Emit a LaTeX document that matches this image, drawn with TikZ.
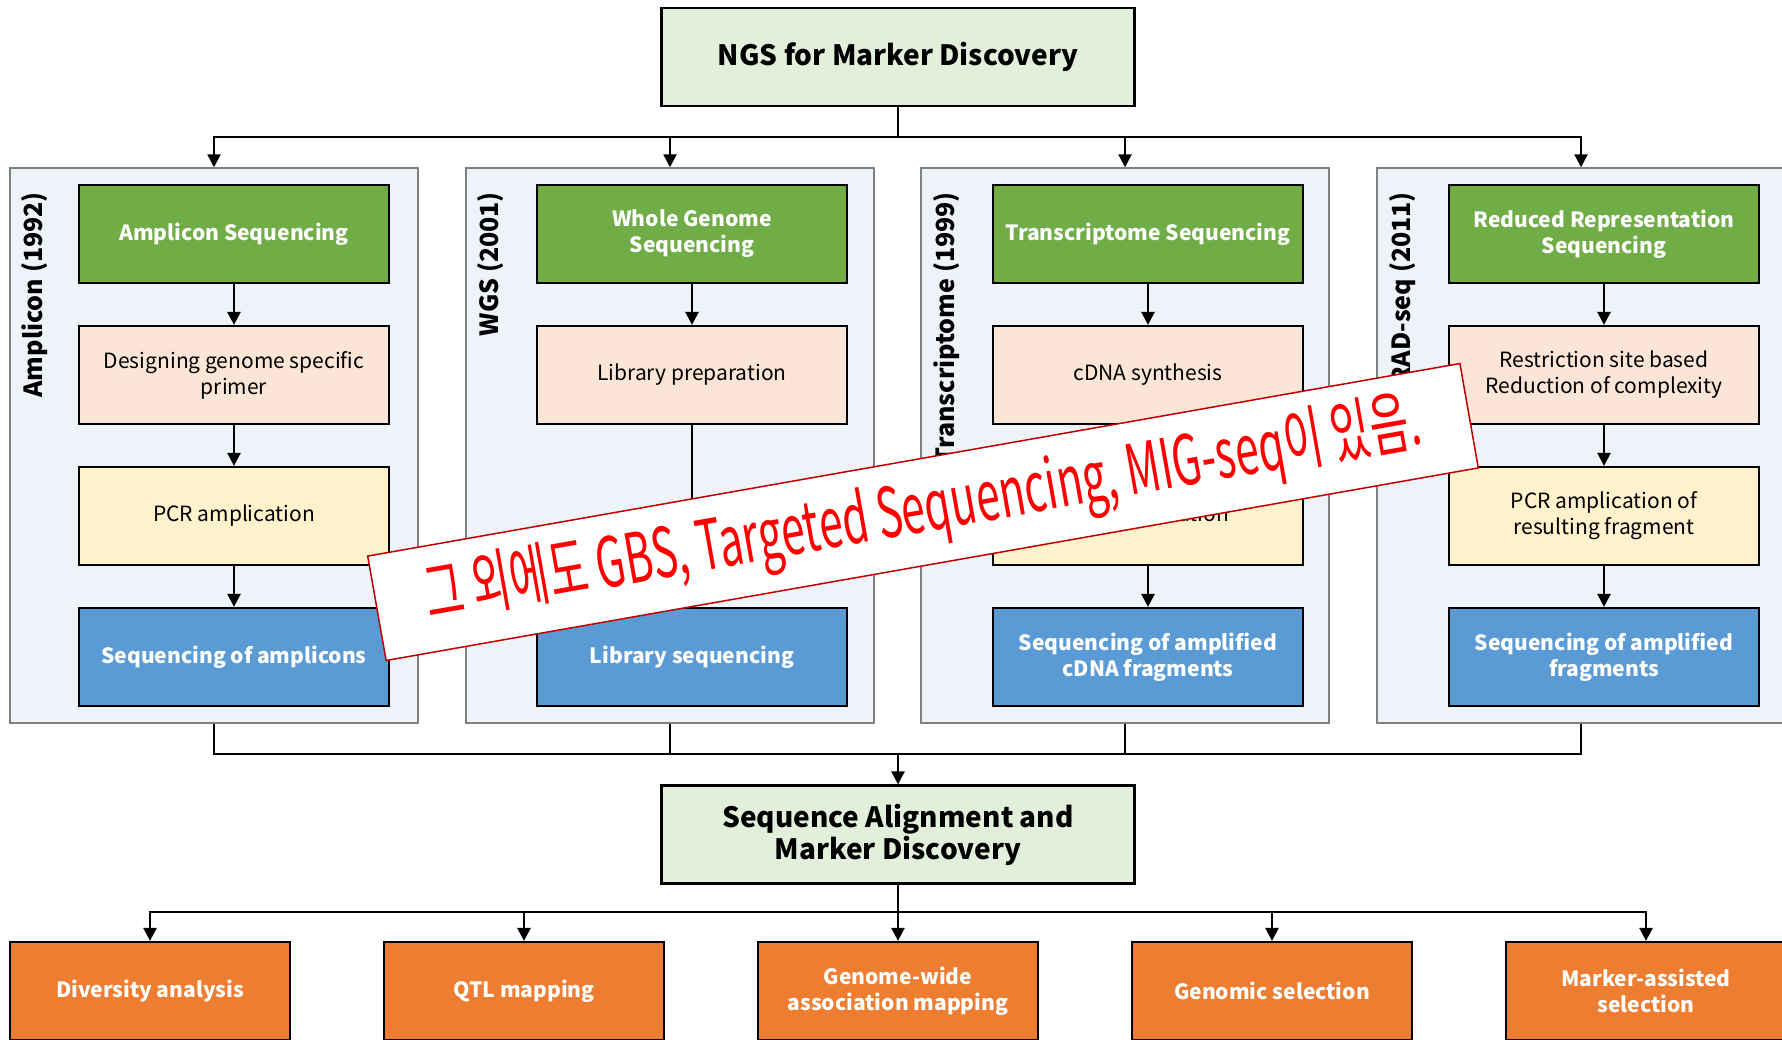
\documentclass[tikz,border=0pt]{standalone}
\usepackage{fontspec}
\setmainfont{Noto Sans CJK KR}
\usepackage{tikz}
\usetikzlibrary{arrows.meta, positioning, calc}

\definecolor{topgreen}{HTML}{E2EFDA}
\definecolor{panelblue}{HTML}{EEF2F9}
\definecolor{stepgreen}{HTML}{70AD47}
\definecolor{steppeach}{HTML}{FBE5D6}
\definecolor{stepyellow}{HTML}{FFF2CC}
\definecolor{stepblue}{HTML}{5B9BD5}
\definecolor{useorange}{HTML}{ED7D31}
\definecolor{notered}{HTML}{FF0000}
\definecolor{noteedge}{HTML}{C00000}

\begin{document}
\begin{tikzpicture}[x=0.5pt, y=-0.5pt,
  topbox/.style={draw, line width=1.1pt, fill=topgreen, minimum width=236.5pt, minimum height=49pt, align=center, font=\fontsize{14}{16}\selectfont\bfseries},
  panel/.style={draw=gray, line width=0.7pt, fill=panelblue, minimum width=204pt, minimum height=277.5pt},
  plabel/.style={rotate=90, anchor=east, font=\fontsize{12.5}{15}\selectfont\bfseries},
  box/.style={draw, line width=1.1pt, minimum width=155pt, minimum height=49pt, align=center, font=\fontsize{10.5}{13}\selectfont},
  head/.style={box, fill=stepgreen, text=white, font=\fontsize{10.5}{13}\selectfont\bfseries},
  prep/.style={box, fill=steppeach},
  amp/.style={box, fill=stepyellow},
  seq/.style={box, fill=stepblue, text=white, font=\fontsize{10.5}{13}\selectfont\bfseries},
  use/.style={box, fill=useorange, text=white, minimum width=140pt, font=\fontsize{10.5}{13}\selectfont\bfseries},
  note/.style={draw=noteedge, line width=0.75pt, fill=white, rotate=10, minimum width=554.5pt, minimum height=53pt, text=notered, font=\fontsize{32}{36}\selectfont},
  arr/.style={-{Triangle[length=6.5pt, width=6.5pt]}, line width=1.2pt},
  wire/.style={line width=1.2pt}
]
\useasboundingbox (0,0) rectangle (1782,1039);

% ----- Top -----
\node[topbox] (ngs) at (898,57) {NGS for Marker Discovery};

% ----- Panels -----
\node[panel] (p1) at (214,445.5) {};
\node[panel] (p2) at (670,445.5) {};
\node[panel] (p3) at (1125,445.5) {};
\node[panel] (p4) at (1581,445.5) {};

\node[plabel] (l1) at (35,185) {Amplicon (1992)};
\node[plabel] (l2) at (491,185) {WGS (2001)};
\node[plabel] (l3) at (947,185) {Transcriptome (1999)};
\node[plabel] (l4) at (1403,185) {RAD-seq (2011)};

% ----- Amplicon -----
\node[head] (a1) at (234,234) {Amplicon Sequencing};
\node[prep] (a2) at (234,375) {Designing genome specific\\primer};
\node[amp]  (a3) at (234,516) {PCR amplication};
\node[seq]  (a4) at (234,657) {Sequencing of amplicons};

% ----- WGS -----
\node[head] (w1) at (692,234) {Whole Genome\\Sequencing};
\node[prep] (w2) at (692,375) {Library preparation};
\node[seq]  (w4) at (692,657) {Library sequencing};

% ----- Transcriptome -----
\node[head] (t1) at (1148,234) {Transcriptome Sequencing};
\node[prep] (t2) at (1148,375) {cDNA synthesis};
\node[amp]  (t3) at (1148,516) {PCR amplication};
\node[seq]  (t4) at (1148,657) {Sequencing of amplified\\cDNA fragments};

% ----- RAD-seq -----
\node[head] (r1) at (1604,234) {Reduced Representation\\Sequencing};
\node[prep] (r2) at (1604,375) {Restriction site based\\Reduction of complexity};
\node[amp]  (r3) at (1604,516) {PCR amplication of\\resulting fragment};
\node[seq]  (r4) at (1604,657) {Sequencing of amplified\\fragments};

% ----- Alignment -----
\node[topbox] (align) at (898,834.5) {Sequence Alignment and\\Marker Discovery};

% ----- Applications -----
\node[use] (u1) at (150,991) {Diversity analysis};
\node[use] (u2) at (524,991) {QTL mapping};
\node[use] (u3) at (898,991) {Genome-wide\\association mapping};
\node[use] (u4) at (1272,991) {Genomic selection};
\node[use] (u5) at (1646,991) {Marker-assisted\\selection};

% ----- Top to panels -----
\coordinate (topbus) at (898,137);
\draw[wire] (ngs.south) -- (topbus);
\draw[arr] (topbus) -| (p1.north);
\draw[arr] (topbus) -| (p2.north);
\draw[arr] (topbus) -| (p3.north);
\draw[arr] (topbus) -| (p4.north);

% ----- Inside panels -----
\draw[arr] (a1) -- (a2);
\draw[arr] (a2) -- (a3);
\draw[arr] (a3) -- (a4);
\draw[arr] (w1) -- (w2);
\draw[arr] (w2) -- (w4);
\draw[arr] (t1) -- (t2);
\draw[arr] (t2) -- (t3);
\draw[arr] (t3) -- (t4);
\draw[arr] (r1) -- (r2);
\draw[arr] (r2) -- (r3);
\draw[arr] (r3) -- (r4);

% ----- Panels to alignment -----
\coordinate (midbus) at (898,754);
\draw[wire] (p1.south) |- (midbus);
\draw[wire] (p2.south) |- (midbus);
\draw[wire] (p3.south) |- (midbus);
\draw[wire] (p4.south) |- (midbus);
\draw[arr] (midbus) -- (align.north);

% ----- Alignment to applications -----
\coordinate (lowbus) at (898,912);
\draw[wire] (align.south) -- (lowbus);
\draw[arr] (lowbus) -| (u1.north);
\draw[arr] (lowbus) -| (u2.north);
\draw[arr] (lowbus) -- (u3.north);
\draw[arr] (lowbus) -| (u4.north);
\draw[arr] (lowbus) -| (u5.north);

% ----- Note -----
\node[note] (memo) at (923,512) {\scalebox{0.66}[1.08]{그 외에도 GBS, Targeted Sequencing, MIG-seq이 있음.}};

\end{tikzpicture}
\end{document}
